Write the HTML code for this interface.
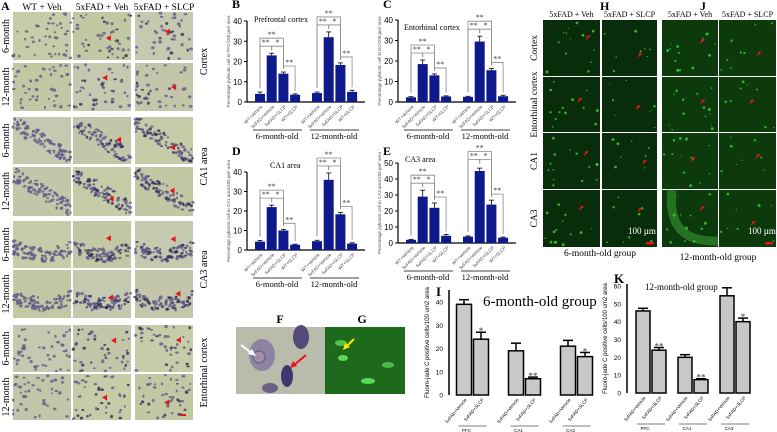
<!DOCTYPE html>
<html><head><meta charset="utf-8">
<style>
html,body{margin:0;padding:0;background:#fff;}
svg{display:block;font-family:"Liberation Serif",serif;}
.ax{font-family:"Liberation Sans",sans-serif;}
</style></head>
<body>
<svg id="fig" width="777" height="432" viewBox="0 0 777 432" xmlns="http://www.w3.org/2000/svg">
<g id="micro"></g>
<g id="fluor"></g>
<g id="charts"></g>
<g id="fg"></g>
</svg>
<script>
// ===== Chart data =====
const bcdeCategories = ["WT+Vehicle","5xFAD+Vehicle","5xFAD+SLCP","WT+SLCP"];
const bValues6 = [4, 23, 14, 3.6];
const bValues12 = [4.4, 32, 18.3, 5];
const bErr6 = [0.9, 1.1, 0.8, 0.4];
const bErr12 = [0.5, 2.6, 1, 0.8];
const cValues6 = [2.3, 18.5, 13, 2.7];
const cValues12 = [2.5, 29.5, 15.5, 2.8];
const cErr6 = [0.3, 2, 0.7, 0.3];
const cErr12 = [0.3, 2.6, 0.8, 0.5];
const dValues6 = [4.3, 22, 10, 2.7];
const dValues12 = [4.5, 36, 18.3, 3.3];
const dErr6 = [0.6, 1, 0.6, 0.3];
const dErr12 = [0.5, 3.5, 1, 0.4];
const eValues6 = [2, 29, 22, 4.5];
const eValues12 = [4, 45, 24, 3.3];
const eErr6 = [0.3, 4, 3, 0.8];
const eErr12 = [0.4, 1.8, 2.8, 0.4];
const ticks40 = [0, 10, 20, 30, 40];
const ticks50 = [0, 10, 20, 30, 40, 50];
const ikCategories = ["5xFAD+Vehicle","5xFAD+SLCP","5xFAD+Vehicle","5xFAD+SLCP","5xFAD+Vehicle","5xFAD+SLCP"];
const ikRegions = ["PFC","CA1","CA3"];
const iValues = [39, 24, 19, 7, 21, 16.5];
const iErr = [2, 3, 3.3, 0.7, 2.5, 1.8];
const iStars = ["", "*", "", "**", "", "*"];
const kValues = [46, 24, 20, 7.5, 54.5, 40];
const kErr = [1.5, 1.5, 1.5, 0.5, 4.5, 2];
const kStars = ["", "**", "", "**", "", "*"];
const ticksI = [0, 10, 20, 30, 40];
const ticksK = [0, 10, 20, 30, 40, 50, 60];

const NS = "http://www.w3.org/2000/svg";
function mk(parent, tag, attrs, text){
  const e = document.createElementNS(NS, tag);
  for (const k in attrs) e.setAttribute(k, attrs[k]);
  if (text !== undefined) e.textContent = text;
  parent.appendChild(e);
  return e;
}
let seed = 7;
function rnd(){ seed = (seed*16807) % 2147483647; return (seed-1)/2147483646; }

// ===== Panel A histology =====
const micro = document.getElementById("micro");
const colsA = [[13,58],[73,58],[135,58]];
const rowsA = [[12,48],[63,48],[117,47],[167,49],[221,47],[270,48],[325,47],[374,46]];
const bgs = ["#c6cba8","#c2c7a4","#c4c9b0","#c3c6a8"];
rowsA.forEach((r, ri) => {
  colsA.forEach((c, ci) => {
    const g = mk(micro, "g", {});
    
    
    mk(g, "rect", {x:c[0], y:r[0], width:c[1], height:r[1], fill: bgs[(ri+ci)%4]});
    const grp = Math.floor(ri/2);
    const n = (grp===1||grp===2) ? 90 : 45;
    for (let i=0;i<n;i++){
      let x = c[0]+rnd()*c[1], y = r[0]+rnd()*r[1];
      if (grp===1){ y = r[0] + r[1]*0.5 + (x-c[0]-c[1]/2)*0.6 + (rnd()-0.5)*16; }
      if (grp===2){ y = r[0] + r[1]*0.55 + Math.sin((x-c[0])/c[1]*3)*8 + (rnd()-0.5)*14; }
      if (y<r[0]+1||y>r[0]+r[1]-1) continue;
      mk(g, "ellipse", {cx:x, cy:y, rx:1+rnd()*1, ry:0.9+rnd()*0.8, fill: ci>0 && rnd()<0.3 ? "#2e2a55" : "#5f5a88", opacity:0.8});
    }
    if (ci>0){
      const ax = c[0]+c[1]*(0.45+rnd()*0.3), ay = r[0]+r[1]*(0.3+rnd()*0.4);
      const a = mk(g, "polygon", {points:`${ax},${ay} ${ax+5},${ay-3} ${ax+5},${ay+3}`, fill:"#e8141c"});
      
      
    }
  });
});
mk(micro, "rect", {x:180, y:414, width:6, height:2, fill:"#e8141c"});
const aLabel = mk(micro, "text", {x:1, y:10, "font-size":12, "font-weight":"bold"}, "A");
 
["WT + Veh","5xFAD + Veh","5xFAD + SLCP"].forEach((t,i)=>{
  const e = mk(micro, "text", {x:colsA[i][0]+colsA[i][1]/2, y:10, "font-size":9.5, "text-anchor":"middle"}, t);
   
});
rowsA.forEach((r,ri)=>{
  const cy = r[0]+r[1]/2;
  const e = mk(micro, "text", {x:0, y:0, "font-size":10, "text-anchor":"middle", transform:`translate(9,${cy}) rotate(-90)`}, ri%2===0?"6-month":"12-month");
   
});
["Cortex","CA1 area","CA3 area","Entorhinal cortex"].forEach((t,i)=>{
  const cy = (rowsA[i*2][0] + rowsA[i*2+1][0]+rowsA[i*2+1][1])/2;
  const e = mk(micro, "text", {x:0, y:0, "font-size":10, "text-anchor":"middle", transform:`translate(207,${cy}) rotate(-90)`}, t);
   
});

// ===== Panels H/J fluorescence =====
const fluor = document.getElementById("fluor");
const colsF = [[543,57],[602,55],[662,56],[719,57]];
const rowsF = [[20,56],[77,55],[133,56],[190,57]];
rowsF.forEach((r,ri)=>{
  colsF.forEach((c,ci)=>{
    const g = mk(fluor, "g", {});
    
    
    mk(g, "rect", {x:c[0], y:r[0], width:c[1], height:r[1], fill: ci>=2 ? "#0c3a0d" : "#092c0a"});
    if (ci===2 && ri===3){
      mk(g, "path", {d:`M${c[0]+10},${r[0]} Q${c[0]+4},${r[0]+r[1]-4} ${c[0]+c[1]},${r[0]+r[1]-6}`, stroke:"#2f8a2c", "stroke-width":9, fill:"none", opacity:0.7});
    }
    const n = ci%2===0 ? 14 : 8;
    for (let i=0;i<n;i++){
      mk(g, "circle", {cx:c[0]+2+rnd()*(c[1]-4), cy:r[0]+2+rnd()*(r[1]-4), r:0.5+rnd()*1, fill:"#3de03a", opacity:0.75});
    }
    const ax = c[0]+c[1]*(0.45+rnd()*0.3), ay = r[0]+r[1]*(0.35+rnd()*0.35);
    const a = mk(g, "polygon", {points:`${ax},${ay} ${ax+5},${ay-4} ${ax+2},${ay-5}`, fill:"#e8141c"});
     
  });
});
mk(fluor, "rect", {x:646, y:242, width:8, height:2.5, fill:"#e8141c"});
mk(fluor, "rect", {x:765, y:242, width:8, height:2.5, fill:"#e8141c"});
mk(fluor, "text", {x:628, y:234, "font-size":9, fill:"#fff"}, "100 µm");
mk(fluor, "text", {x:748, y:234, "font-size":9, fill:"#fff"}, "100 µm");
[["H",600],["J",700]].forEach(([t,x])=>{
  const e = mk(fluor, "text", {x:x, y:10, "font-size":12, "font-weight":"bold"}, t);
   
});
["5xFAD + Veh","5xFAD + SLCP","5xFAD + Veh","5xFAD + SLCP"].forEach((t,i)=>{
  const e = mk(fluor, "text", {x:colsF[i][0]+colsF[i][1]/2, y:17, "font-size":8, "text-anchor":"middle"}, t);
   
});
["Cortex","Entorhinal cortex","CA1","CA3"].forEach((t,i)=>{
  const e = mk(fluor, "text", {x:0, y:0, "font-size":9.5, "text-anchor":"middle", transform:`translate(537,${rowsF[i][0]+rowsF[i][1]/2}) rotate(-90)`}, t);
   
});
const g6 = mk(fluor, "text", {x:600, y:256, "font-size":9.5, "text-anchor":"middle"}, "6-month-old group");
 
const g12 = mk(fluor, "text", {x:718, y:260, "font-size":9.5, "text-anchor":"middle"}, "12-month-old group");
 

// ===== Blue bar charts B-E =====
const charts = document.getElementById("charts");
function blueChart(opt){
  const g = mk(charts, "g", {});
  
  
  const ymax = opt.ticks[opt.ticks.length-1];
  const yS = v => opt.y0 - v/ymax*(opt.y0-opt.yTop);
  const xEnd = opt.x0 + 118;
  mk(g, "line", {x1:opt.x0, y1:opt.yTop, x2:opt.x0, y2:opt.y0, stroke:"#000", "stroke-width":1.2});
  mk(g, "line", {x1:opt.x0, y1:opt.y0, x2:xEnd, y2:opt.y0, stroke:"#000", "stroke-width":1.2});
  opt.ticks.forEach(t=>{
    mk(g, "line", {x1:opt.x0-3, y1:yS(t), x2:opt.x0, y2:yS(t), stroke:"#000"});
    const e = mk(g, "text", {x:opt.x0-5, y:yS(t)+3, "font-size":8, "text-anchor":"end", class:"ax"}, t);
     
  });
  const yl = mk(g, "text", {x:0,y:0,"font-size":4.5,"text-anchor":"middle",class:"ax",fill:"#555",transform:`translate(${opt.x0-17},${(opt.y0+opt.yTop)/2}) rotate(-90)`}, opt.ylabel);
   
  const groups = [[opt.v6,opt.e6,opt.x0+8],[opt.v12,opt.e12,opt.x0+65]];
  groups.forEach(([vals,errs,gx],gi)=>{
    vals.forEach((v,i)=>{
      const cx = gx + 5 + i*11.7;
      const b = mk(g, "rect", {x:cx-5, y:yS(v), width:10, height:opt.y0-yS(v), fill:"#0e1a8c"});
      
      
      mk(g, "line", {x1:cx, y1:yS(v), x2:cx, y2:yS(v+errs[i]), stroke:"#000", "stroke-width":0.8});
      mk(g, "line", {x1:cx-2.5, y1:yS(v+errs[i]), x2:cx+2.5, y2:yS(v+errs[i]), stroke:"#000", "stroke-width":0.8});
      mk(g, "text", {x:0,y:0,"font-size":4.5,"text-anchor":"end",class:"ax",fill:"#444",transform:`translate(${cx+3},${opt.y0+5}) rotate(-45)`}, bcdeCategories[i]);
    });
    const top = yS(Math.max(...vals)+Math.max(...errs));
    const c0 = gx+5, c1 = gx+16.7, c2 = gx+28.4, c3 = gx+40.1;
    const br = (xa,xb,yy,lbl,ya,yb)=>{
      mk(g, "path", {d:`M${xa},${ya} V${yy} H${xb} V${yb}`, stroke:"#888", fill:"none", "stroke-width":0.8});
      mk(g, "text", {x:(xa+xb)/2, y:yy-1, "font-size":8, "text-anchor":"middle", fill:"#444"}, lbl);
    };
    br(c0, c2, top-15, "**", yS(vals[0]+errs[0])-4, yS(vals[2]+errs[2])-4);
    br(c0, c1, top-7, "**", yS(vals[0]+errs[0])-4, top-3);
    br(c1, c2, top-7, "*", top-3, yS(vals[2]+errs[2])-4);
    br(c2, c3, yS(vals[2]+errs[2])-6, "**", yS(vals[2]+errs[2])-3, yS(vals[3]+errs[3])-3);
    mk(g, "line", {x1:gx-2, y1:opt.y0+28, x2:gx+47, y2:opt.y0+28, stroke:"#000", "stroke-width":0.7});
    const ml = mk(g, "text", {x:gx+22, y:opt.y0+37, "font-size":8.5, "text-anchor":"middle"}, gi===0?"6-month-old":"12-month-old");
     
  });
  const pl = mk(g, "text", {x:opt.x0-15, y:opt.labelY, "font-size":12, "font-weight":"bold"}, opt.letter);
   
  const tt = mk(g, "text", {x:opt.titleX, y:opt.titleY, "font-size":8}, opt.title);
   
}
blueChart({name:"chart-b-prefrontal", letter:"B", x0:247, y0:102, yTop:21, ticks:ticks40, v6:bValues6, e6:bErr6, v12:bValues12, e12:bErr12, title:"Prefrontal cortex", titleX:254, titleY:22, labelY:8, ylabel:"Percentage pyknotic cell in PFC/100 µm² area"});
blueChart({name:"chart-c-entorhinal", letter:"C", x0:398, y0:102, yTop:20, ticks:ticks40, v6:cValues6, e6:cErr6, v12:cValues12, e12:cErr12, title:"Entorhinal cortex", titleX:404, titleY:30, labelY:8, ylabel:"Percentage pyknotic cell in EC/100 µm² area"});
blueChart({name:"chart-d-ca1", letter:"D", x0:247, y0:250, yTop:172, ticks:ticks40, v6:dValues6, e6:dErr6, v12:dValues12, e12:dErr12, title:"CA1 area", titleX:270, titleY:168, labelY:155, ylabel:"Percentage pyknotic cell in CA1 area/100 µm² area"});
blueChart({name:"chart-e-ca3", letter:"E", x0:398, y0:243, yTop:163, ticks:ticks50, v6:eValues6, e6:eErr6, v12:eValues12, e12:eErr12, title:"CA3 area", titleX:405, titleY:162, labelY:155, ylabel:"Percentage pyknotic cell in CA3 area/100 µm² area"});

// ===== Gray bar charts I/K =====
function grayChart(opt){
  const g = mk(charts, "g", {});
  
  
  const ymax = opt.ticks[opt.ticks.length-1];
  const yS = v => opt.y0 - v/ymax*(opt.y0-opt.yTop);
  mk(g, "line", {x1:opt.x0, y1:opt.axisTop, x2:opt.x0, y2:opt.y0, stroke:"#000", "stroke-width":1.5});
  opt.ticks.forEach(t=>{
    const e = mk(g, "text", {x:opt.x0-6, y:yS(t)+2.5, "font-size":6.5, "text-anchor":"end", class:"ax"}, t);
     
  });
  const yl = mk(g, "text", {x:0,y:0,"font-size":6,"text-anchor":"middle",class:"ax",transform:`translate(${opt.x0-20},${(opt.y0+opt.axisTop)/2}) rotate(-90)`}, "Fluoro-jade C positive cells/100 um2 area");
   
  opt.vals.forEach((v,i)=>{
    const cx = opt.x0 + opt.first + Math.floor(i/2)*opt.grpGap + (i%2)*opt.pairGap;
    const b = mk(g, "rect", {x:cx-opt.w/2, y:yS(v), width:opt.w, height:opt.y0-yS(v), fill:"#c8c8c8", stroke:"#000", "stroke-width":1.5});
    
    
    const ey = yS(v+opt.errs[i]);
    mk(g, "line", {x1:cx, y1:yS(v), x2:cx, y2:ey, stroke:"#000", "stroke-width":1.5});
    mk(g, "line", {x1:cx-5, y1:ey, x2:cx+5, y2:ey, stroke:"#000", "stroke-width":1.5});
    if (opt.stars[i]) mk(g, "text", {x:cx, y:ey+4-2, "font-size":9, "text-anchor":"middle", fill:"#333"}, opt.stars[i]);
    mk(g, "text", {x:0,y:0,"font-size":4.5,"text-anchor":"end",class:"ax",transform:`translate(${cx+3},${opt.y0+5}) rotate(-50)`}, ikCategories[i]);
  });
  ikRegions.forEach((r,ri)=>{
    const cx = opt.x0 + opt.first + ri*opt.grpGap + opt.pairGap/2;
    mk(g, "line", {x1:cx-14, y1:opt.y0+31, x2:cx+14, y2:opt.y0+31, stroke:"#000", "stroke-width":0.6});
    const e = mk(g, "text", {x:cx-6, y:opt.y0+37, "font-size":4.5, "text-anchor":"middle", class:"ax"}, r);
     
  });
  const pl = mk(g, "text", {x:opt.x0-13, y:opt.labelY, "font-size":13, "font-weight":"bold"}, opt.letter);
   
  const tt = mk(g, "text", {x:opt.titleX, y:opt.titleY, "font-size":opt.titleSize}, opt.title);
   
}
grayChart({name:"chart-i-6month", letter:"I", x0:449, y0:395, yTop:302, axisTop:290, ticks:ticksI, vals:iValues, errs:iErr, stars:iStars, first:15, grpGap:52, pairGap:17, w:15, title:"6-month-old group", titleX:483, titleY:306, titleSize:15, labelY:296});
grayChart({name:"chart-k-12month", letter:"K", x0:627, y0:393, yTop:286, axisTop:284, ticks:ticksK, vals:kValues, errs:kErr, stars:kStars, first:16, grpGap:42, pairGap:16, w:14, title:"12-month-old group", titleX:645, titleY:290, titleSize:9, labelY:283});

// ===== F/G panels =====
const fg = document.getElementById("fg");
const fImg = mk(fg, "g", {});
 
mk(fImg, "rect", {x:236, y:327, width:89, height:67, fill:"#b9bcaa"});
mk(fImg, "ellipse", {cx:262, cy:355, rx:13, ry:16, fill:"#8e83a4"});
mk(fImg, "circle", {cx:259, cy:357, r:6, fill:"#a08ea8", stroke:"#6a5880"});
mk(fImg, "ellipse", {cx:301, cy:337, rx:8, ry:12, fill:"#55497a"});
mk(fImg, "ellipse", {cx:287, cy:376, rx:6, ry:11, fill:"#3f3570"});
mk(fImg, "ellipse", {cx:270, cy:388, rx:8, ry:5, fill:"#6a6088"});
mk(fImg, "line", {x1:241, y1:345, x2:253, y2:354, stroke:"#fff", "stroke-width":2});
mk(fImg, "polygon", {points:"256,356 248,354 252,349", fill:"#fff"});
mk(fImg, "line", {x1:306, y1:355, x2:294, y2:365, stroke:"#e8141c", "stroke-width":2});
mk(fImg, "polygon", {points:"290,368 293,361 297,366", fill:"#e8141c"});
const gImg = mk(fg, "g", {});
 
mk(gImg, "rect", {x:325, y:327, width:80, height:67, fill:"#1d6a1c"});
mk(gImg, "ellipse", {cx:341, cy:343, rx:6, ry:3, fill:"#4fc34a"});
mk(gImg, "ellipse", {cx:343, cy:358, rx:5, ry:3, fill:"#5fd858"});
mk(gImg, "ellipse", {cx:388, cy:365, rx:6, ry:3, fill:"#4fb84a"});
mk(gImg, "ellipse", {cx:368, cy:381, rx:7, ry:3, fill:"#5fd858"});
mk(gImg, "line", {x1:354, y1:339, x2:346, y2:347, stroke:"#ffe600", "stroke-width":2});
mk(gImg, "polygon", {points:"343,350 345,343 350,347", fill:"#ffe600"});
const fl = mk(fg, "text", {x:280, y:323, "font-size":12, "font-weight":"bold", "text-anchor":"middle"}, "F");
 
const gl = mk(fg, "text", {x:362, y:323, "font-size":12, "font-weight":"bold", "text-anchor":"middle"}, "G");
 
</script>
</body></html>
